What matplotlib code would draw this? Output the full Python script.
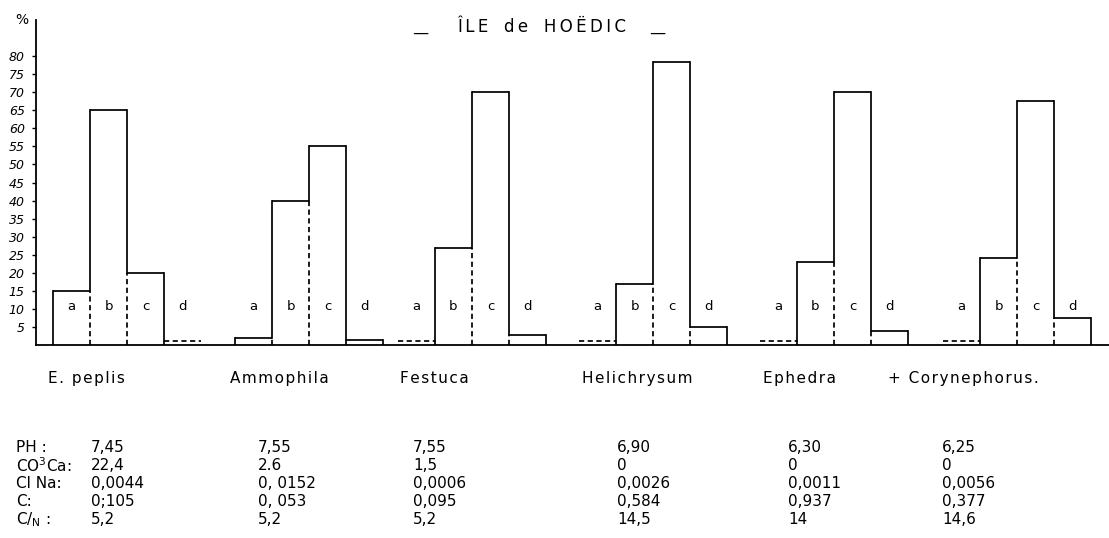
import matplotlib
matplotlib.use("Agg")
import matplotlib.pyplot as plt

# ---------------- data ----------------
species = ["E. peplis", "Ammophila", "Festuca", "Helichrysum", "Ephedra", "+ Corynephorus."]
fractions = ["a", "b", "c", "d"]
pct_a = [15, 2, 1, 1, 1, 1]
pct_b = [65, 40, 27, 17, 23, 24]
pct_c = [20, 55, 70, 78.5, 70, 67.5]
pct_d = [1, 1.5, 2.8, 5, 4, 7.5]

row_labels = ["PH :", "CO$^{\\mathregular{3}}$Ca:", "Cl Na:", "C:", "C/$_{\\mathregular{N}}$ :"]
ph = ["7,45", "7,55", "7,55", "6,90", "6,30", "6,25"]
co3ca = ["22,4", "2.6", "1,5", "0", "0", "0"]
clna = ["0,0044", "0, 0152", "0,0006", "0,0026", "0,0011", "0,0056"]
carbon = ["0;105", "0, 053", "0,095", "0,584", "0,937", "0,377"]
c_over_n = ["5,2", "5,2", "5,2", "14,5", "14", "14,6"]

yticks = list(range(5, 85, 5))
title_words = ["ÎLE", "de", "HOËDIC"]

# ---------------- layout ----------------
W, H = 1109, 538
group_left = [17, 199, 362, 543, 724, 907]      # axis-x units (pixels from y axis)
bar_w = 37
label_left = [12, 194, 364, 546, 727, 852]
col_x = [91, 258, 413, 617, 788, 942]
row_y = [447, 466, 484, 502, 520]
tiny = 1.2


def spaced(s, sep):
    return sep.join(s)


fig = plt.figure(figsize=(W / 100, H / 100), dpi=100)
ax = fig.add_axes([36 / W, (H - 345) / H, (W - 36) / W, 325 / H])
ax.set_xlim(0, W - 36)
ax.set_ylim(0, 90)
for s in ("top", "right"):
    ax.spines[s].set_visible(False)
for s in ("left", "bottom"):
    ax.spines[s].set_linewidth(1.3)
ax.set_xticks([])
ax.set_yticks(yticks)
ax.set_yticklabels([str(t) for t in yticks], fontsize=9, style="italic")
ax.tick_params(axis="y", length=3, width=1, pad=5, direction="out")

lw = 1.25
dash = (0, (3, 2))
series = list(zip(pct_a, pct_b, pct_c, pct_d))
for g, vals in enumerate(series):
    x0 = group_left[g]
    edges = [x0 + i * bar_w for i in range(5)]
    for i, v in enumerate(vals):
        ax.plot([edges[i], edges[i + 1]], [v, v], color="black", lw=lw,
                linestyle=dash if v <= tiny else "-", solid_capstyle="butt")
        ax.text((edges[i] + edges[i + 1]) / 2, 10.8, fractions[i], ha="center",
                va="center", fontsize=9.5)
    # outer edges
    if vals[0] > tiny:
        ax.plot([edges[0]] * 2, [0, vals[0]], color="black", lw=lw)
    if vals[3] > tiny:
        ax.plot([edges[4]] * 2, [0, vals[3]], color="black", lw=lw)
    # inner dividers
    for i in range(3):
        lo, hi = sorted((vals[i], vals[i + 1]))
        ax.plot([edges[i + 1]] * 2, [0, lo], color="black", lw=lw, linestyle=dash)
        ax.plot([edges[i + 1]] * 2, [lo, hi], color="black", lw=lw)

for g, name in enumerate(species):
    ax.text(label_left[g], -9.2, spaced(name, "\u200a"), ha="left", va="center",
            fontsize=11, clip_on=False)

# percent sign & title
fig.text(22 / W, 1 - 20 / H, "%", ha="center", va="center", fontsize=10)
title = "   ".join(spaced(w, "\u2009") for w in title_words)
fig.text(542 / W, 1 - 27 / H, title, ha="center", va="center", fontsize=12)
fig.text(421 / W, 1 - 27 / H, "__", ha="center", va="center", fontsize=11)
fig.text(658 / W, 1 - 27 / H, "__", ha="center", va="center", fontsize=11)

# table
rows = [ph, co3ca, clna, carbon, c_over_n]
for r, (lab, vals) in enumerate(zip(row_labels, rows)):
    fig.text(16 / W, 1 - row_y[r] / H, lab, ha="left", va="center", fontsize=11)
    for c, v in enumerate(vals):
        fig.text(col_x[c] / W, 1 - row_y[r] / H, v, ha="left", va="center",
                 fontsize=11)

fig.savefig("out.png", dpi=100)
